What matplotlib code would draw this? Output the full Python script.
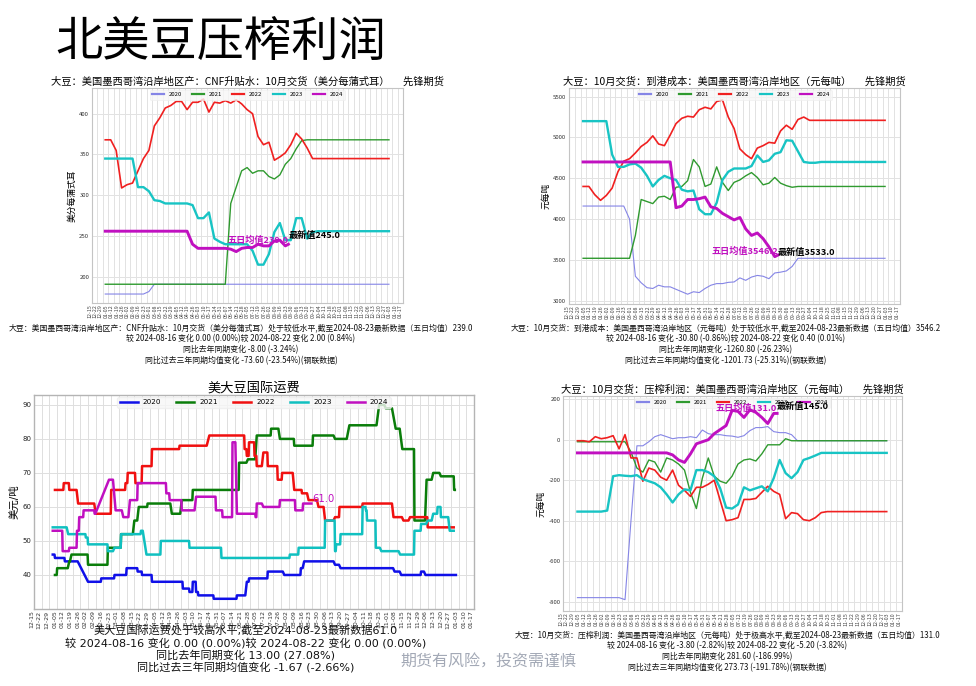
import matplotlib
matplotlib.use('Agg')
import matplotlib.pyplot as plt
import numpy as np
import pandas as pd

CJK = 'Noto Sans CJK SC'
plt.rcParams['font.family'] = [CJK, 'DejaVu Sans']
plt.rcParams['axes.unicode_minus'] = False

W, H = 976, 686
fig = plt.figure(figsize=(W / 100, H / 100), dpi=100)


def fx(px):
    return px / W


def fy(py):
    return 1 - py / H


# ---------------- x axis (seasonal, Dec-15 .. Jan-17) ----------------
x_start = pd.Timestamp('2023-12-15')
tick_dates = pd.date_range(x_start, periods=58, freq='7D')
tick_labels = [d.strftime('%m-%d') for d in tick_dates]
tick_pos = [(d - x_start).days for d in tick_dates]
X_END = (pd.Timestamp('2025-01-17') - x_start).days
JAN1 = (pd.Timestamp('2024-01-01') - x_start).days
week_dates = pd.date_range('2024-01-01', periods=53, freq='7D')
week_x = [(d - x_start).days for d in week_dates]
last_x = (pd.Timestamp('2024-08-23') - x_start).days

years = ['2020', '2021', '2022', '2023', '2024']

# ---------------- data: CNF basis (US cents / bushel), weekly ----------------
tl_2020 = [179] * 8 + [182, 191] + [191] * 43
tl_2021 = [191] * 23 + [290, 310, 330, 334, 327, 330, 330, 323, 320, 325, 338, 345, 357, 367] + [368] * 16
tl_2022 = [368, 368, 355, 309, 313, 315, 330, 345, 355, 385, 395, 407, 410, 415, 415, 405, 414, 414,
           418, 402, 414, 413, 416, 413, 417, 412, 405, 400, 372, 362, 365, 343, 347, 352, 362, 376,
           369, 358, 345] + [345] * 14
tl_2023 = [345] * 5 + [345, 310, 310, 305, 294, 293, 290, 290, 290, 290, 290, 288, 272, 272, 279, 247,
                       243, 240, 240, 240, 240, 240, 232, 215, 215, 228, 255, 266, 245, 245, 272, 272,
                       247, 255] + [256] * 14
tl_2024 = [256] * 16 + [240, 235, 235, 235, 235, 235, 235, 234, 231, 235, 236, 236, 240, 238, 238,
                        244, 245, 238, 240]
tl_avg5, tl_latest = 239.0, 245.0

# ---------------- data: landed cost (yuan / t), weekly ----------------
tr_2020 = [4160] * 8 + [4000, 3300, 3220, 3160, 3150, 3190, 3170, 3170, 3140, 3110, 3080, 3110, 3100,
                        3150, 3190, 3210, 3210, 3225, 3230, 3280, 3250, 3290, 3310, 3300, 3270, 3340,
                        3350, 3365, 3420] + [3520] * 16
tr_2021 = [3520] * 9 + [3800, 4240, 4215, 4190, 4270, 4280, 4240, 4390, 4400, 4470, 4730, 4640, 4400,
                        4430, 4640, 4450, 4350, 4450, 4480, 4530, 4570, 4510, 4420, 4440, 4510, 4440,
                        4410, 4390] + [4400] * 16
tr_2022 = [4400, 4400, 4300, 4230, 4290, 4380, 4580, 4710, 4740, 4810, 4890, 4940, 5020, 4920, 4900,
           5030, 5170, 5235, 5260, 5250, 5340, 5370, 5350, 5440, 5460, 5250, 5110, 4860, 4790, 4740,
           4870, 4900, 4940, 4930, 5080, 5150, 5100, 5220, 5250] + [5210] * 14
tr_2023 = [5200] * 5 + [4790, 4640, 4640, 4670, 4680, 4630, 4530, 4400, 4480, 4530, 4500, 4480, 4360,
                        4340, 4350, 4120, 4060, 4060, 4200, 4480, 4580, 4620, 4620, 4620, 4650, 4780,
                        4700, 4720, 4800, 4820, 4965, 4960, 4830, 4700, 4690, 4690] + [4700] * 12
tr_2024 = [4700] * 16 + [4140, 4160, 4240, 4240, 4250, 4270, 4150, 4130, 4070, 4030, 3990, 4020, 3880,
                         3800, 3830, 3760, 3660, 3540, 3560]
tr_avg5, tr_latest = 3546.2, 3533.0

# ---------------- data: crush margin (yuan / t), weekly ----------------
br_2020 = [-780] * 8 + [-790, -400, -30, -30, -10, 15, 25, 15, 5, 10, 10, 15, 10, 48, 30, 25, 25, 20,
                        18, 12, 20, 45, 60, 60, 65, 40, 35, 35, 25] + [-5] * 16
br_2021 = [-10] * 9 + [-60, -140, -160, -100, -110, -160, -90, -100, -120, -150, -260, -340, -190, -90,
                       -180, -205, -215, -180, -120, -100, -95, -105, -70, -25, -25, -25, 5, -5] + [-5] * 16
br_2022 = [-5, -5, -10, 15, 5, 10, 20, -45, 25, -90, -90, -205, -140, -150, -185, -200, -150, -225,
           -250, -280, -235, -235, -220, -200, -300, -400, -395, -385, -295, -295, -290, -260, -230,
           -255, -270, -390, -360, -365, -395, -400, -385, -360] + [-355] * 11
br_2023 = [-355] * 5 + [-350, -180, -175, -178, -180, -175, -195, -205, -215, -235, -270, -310, -270,
                        -245, -250, -150, -150, -160, -180, -240, -335, -340, -320, -235, -250, -240,
                        -230, -255, -190, -100, -165, -190, -160, -100, -90, -78] + [-65] * 12
br_2024 = [-65] * 16 + [-75, -100, -112, -70, -20, -10, 0, 30, 50, 70, 145, 140, 110, 148, 135, 110,
                        80, 130, 130]
br_avg5, br_latest = 131.0, 145.0

# ---------------- data: US soybean ocean freight (USD/t), segments (day-of-year start, end, value) -----
fr_2020 = [(0, 1, 46), (2, 10, 45), (11, 22, 44), (32, 43, 38), (44, 55, 39), (56, 66, 40), (67, 76, 42),
           (77, 80, 41), (81, 89, 40), (90, 117, 38), (118, 123, 36), (124, 126, 35), (127, 129, 38),
           (130, 131, 35), (132, 145, 34), (146, 166, 33), (167, 174, 34), (176, 177, 38), (178, 194, 39),
           (195, 208, 41), (210, 224, 40), (225, 226, 42), (228, 254, 44), (256, 259, 43), (261, 308, 42),
           (310, 314, 41), (316, 333, 40), (334, 336, 41), (338, 365, 40)]
fr_2021 = [(2, 3, 40), (4, 13, 42), (15, 15, 44), (17, 31, 46), (32, 49, 43), (50, 61, 48), (62, 72, 52),
           (74, 76, 56), (78, 85, 60), (86, 106, 61), (108, 115, 58), (117, 126, 62), (127, 168, 65),
           (169, 175, 73), (177, 183, 74), (185, 197, 81), (198, 204, 83), (206, 218, 80), (219, 235, 78),
           (236, 254, 81), (256, 266, 80), (269, 293, 84), (296, 300, 90), (302, 307, 89), (311, 314, 83),
           (317, 327, 77), (328, 337, 56), (339, 343, 68), (345, 350, 70), (352, 363, 69), (364, 364, 65)]
fr_2022 = [(2, 9, 65), (10, 14, 67), (15, 21, 65), (23, 37, 61), (39, 52, 58), (53, 65, 65), (66, 67, 67),
           (68, 74, 70), (75, 80, 67), (81, 89, 72), (90, 114, 77), (115, 139, 78), (142, 173, 81),
           (174, 175, 77), (176, 177, 75), (178, 182, 79), (183, 184, 75), (185, 189, 72), (191, 194, 76),
           (195, 203, 72), (204, 207, 68), (208, 217, 70), (219, 225, 65), (226, 230, 64), (232, 239, 62),
           (241, 245, 60), (247, 254, 56), (256, 259, 57), (260, 280, 60), (281, 307, 61), (309, 316, 57),
           (318, 322, 56), (324, 339, 57), (340, 363, 54)]
fr_2023 = [(0, 12, 54), (14, 29, 52), (30, 31, 51), (32, 49, 49), (50, 54, 47), (56, 61, 48), (62, 79, 52),
           (80, 81, 53), (85, 97, 46), (98, 123, 50), (124, 152, 48), (153, 214, 45), (215, 222, 46),
           (223, 246, 48), (247, 255, 56), (256, 256, 47), (257, 260, 49), (261, 280, 52), (281, 283, 60),
           (284, 284, 59), (285, 292, 56), (293, 296, 48), (298, 313, 47), (315, 327, 46), (328, 333, 53),
           (334, 338, 55), (340, 343, 56), (345, 348, 58), (349, 351, 60), (352, 358, 57), (360, 363, 53)]
fr_2024 = [(0, 8, 53), (9, 14, 47), (15, 21, 48), (22, 23, 53), (24, 27, 57), (28, 37, 59), (38, 38, 58),
           (51, 54, 68), (57, 62, 59), (64, 68, 57), (70, 76, 62), (77, 102, 67), (103, 105, 64),
           (106, 116, 62), (117, 128, 59), (130, 147, 63), (148, 153, 59), (154, 162, 57), (163, 165, 79),
           (167, 183, 58), (184, 184, 57), (185, 189, 61), (191, 205, 60), (206, 219, 62), (220, 226, 59),
           (227, 234, 61)]
fr_latest = 61.0

# ---------------- texts ----------------
main_title = '北美豆压榨利润'
tl_title = '大豆：美国墨西哥湾沿岸地区产：CNF升贴水：10月交货（美分每蒲式耳）      先锋期货'
tr_title = '大豆：10月交货：到港成本：美国墨西哥湾沿岸地区（元每吨）      先锋期货'
br_title = '大豆：10月交货：压榨利润：美国墨西哥湾沿岸地区（元每吨）      先锋期货'
bl_title = '美大豆国际运费'
tl_foot = ['大豆：美国墨西哥湾沿岸地区产：CNF升贴水：10月交货（美分每蒲式耳）处于较低水平,截至2024-08-23最新数据（五日均值）239.0',
           '较 2024-08-16 变化 0.00 (0.00%)较 2024-08-22 变化 2.00 (0.84%)',
           '同比去年同期变化 -8.00 (-3.24%)',
           '同比过去三年同期均值变化 -73.60 (-23.54%)(钢联数据)']
tr_foot = ['大豆：10月交货：到港成本：美国墨西哥湾沿岸地区（元每吨）处于较低水平,截至2024-08-23最新数据（五日均值）3546.2',
           '较 2024-08-16 变化 -30.80 (-0.86%)较 2024-08-22 变化 0.40 (0.01%)',
           '同比去年同期变化 -1260.80 (-26.23%)',
           '同比过去三年同期均值变化 -1201.73 (-25.31%)(钢联数据)']
br_foot = ['大豆：10月交货：压榨利润：美国墨西哥湾沿岸地区（元每吨）处于极高水平,截至2024-08-23最新数据（五日均值）131.0',
           '较 2024-08-16 变化 -3.80 (-2.82%)较 2024-08-22 变化 -5.20 (-3.82%)',
           '同比去年同期变化 281.60 (-186.99%)',
           '同比过去三年同期均值变化 273.73 (-191.78%)(钢联数据)']
bl_foot = ['美大豆国际运费处于较高水平,截至2024-08-23最新数据61.0',
           '较 2024-08-16 变化 0.00 (0.00%)较 2024-08-22 变化 0.00 (0.00%)',
           '同比去年同期变化 13.00 (27.08%)',
           '同比过去三年同期均值变化 -1.67 (-2.66%)']

# ---------------- styles ----------------
s_colors = ['#8585e6', '#2f9a2f', '#f02020', '#18c4c4', '#c010c0']
s_widths = [0.8, 1.0, 1.2, 1.7, 2.1]
b_colors = ['#1010e8', '#0a7d0a', '#f01010', '#10c0c0', '#c010c0']


def style_axes(ax, ylim, yticks, ylabel, title, xfs=3.8, yfs=4.3):
    ax.set_xlim(0, X_END)
    ax.set_ylim(*ylim)
    ax.set_yticks(yticks)
    ax.set_xticks(tick_pos)
    ax.set_xticklabels(tick_labels, rotation=90, ha='right', fontsize=xfs, color='#444444')
    ax.tick_params(axis='y', labelsize=yfs, length=0, pad=2, colors='#333333')
    ax.tick_params(axis='x', length=0, pad=1)
    ax.grid(True, color='#e2e2e2', lw=0.7)
    ax.set_axisbelow(True)
    for sp in ax.spines.values():
        sp.set_color('#c4c4c4')
        sp.set_linewidth(0.8)
    ax.set_ylabel(ylabel, fontsize=6.3, labelpad=2)
    ax.set_title(title, fontsize=7.4, pad=2)


def seasonal(ax, series, avg5, latest, ylim, yticks, ylabel, title):
    for i, (yr, vals) in enumerate(zip(years, series)):
        if yr == '2024':
            xs = week_x[:len(vals) - 1] + [last_x]
        else:
            xs = week_x[:len(vals)]
        ax.plot(xs, vals, color=s_colors[i], lw=s_widths[i], label=yr, zorder=2 + i)
    style_axes(ax, ylim, yticks, ylabel, title)
    leg = ax.legend(loc='upper center', ncol=5, fontsize=4.3, handlelength=2.0, handletextpad=0.8,
                    columnspacing=1.7, borderaxespad=0.3, frameon=True, borderpad=0.4)
    leg.get_frame().set_edgecolor('#eeeeee')
    leg.get_frame().set_facecolor('#f7f7f7')
    leg.get_frame().set_linewidth(0.5)
    for h in leg.get_lines():
        h.set_linewidth(1.6)
    ax.text(last_x, avg5, f'五日均值{avg5:.1f}', color='#c010c0', fontsize=6.6, fontweight='bold',
            ha='right', va='bottom', zorder=10)
    ax.text(last_x, latest, f'最新值{latest:.1f}', color='black', fontsize=6.6, fontweight='bold',
            ha='left', va='bottom', zorder=10)


def footer(lines, cx, ys, fs, family=None):
    for t, y in zip(lines, ys):
        kw = {}
        if family:
            kw['family'] = family
        fig.text(fx(cx), fy(y), t, ha='center', va='center', fontsize=fs, color='#111111', **kw)


# ---------------- top-left ----------------
ax1 = fig.add_axes([fx(92), fy(303), fx(403) - fx(92), (303 - 88) / H])
seasonal(ax1, [tl_2020, tl_2021, tl_2022, tl_2023, tl_2024], tl_avg5, tl_latest,
         (168, 431.5), [200, 250, 300, 350, 400], '美分每蒲式耳', tl_title)
footer(tl_foot, 241, [328, 339, 349.5, 361], 5.7)

# ---------------- top-right ----------------
ax2 = fig.add_axes([fx(569), fy(304), fx(900) - fx(569), (304 - 88) / H])
seasonal(ax2, [tr_2020, tr_2021, tr_2022, tr_2023, tr_2024], tr_avg5, tr_latest,
         (2960, 5606), [3000, 3500, 4000, 4500, 5000, 5500], '元每吨', tr_title)
footer(tr_foot, 726, [328, 339, 350, 361], 5.7)

# ---------------- bottom-right ----------------
ax4 = fig.add_axes([fx(563), fy(611), fx(902) - fx(563), (611 - 396) / H])
seasonal(ax4, [br_2020, br_2021, br_2022, br_2023, br_2024], br_avg5, br_latest,
         (-846, 216), [-800, -600, -400, -200, 0, 200], '元每吨', br_title)
footer(br_foot, 727, [635, 646, 657, 667.5], 5.7)

# ---------------- bottom-left (freight) ----------------
BLF = ['DejaVu Sans', CJK]
ax3 = fig.add_axes([fx(34), fy(609), fx(474) - fx(34), (609 - 395) / H])
for i, (yr, segs) in enumerate(zip(years, [fr_2020, fr_2021, fr_2022, fr_2023, fr_2024])):
    xs, ys = [], []
    for a, b, v in segs:
        xs += [a + JAN1, b + JAN1 + 0.6]
        ys += [v, v]
    ax3.plot(xs, ys, color=b_colors[i], lw=1.8, label=yr, zorder=2 + i)
ax3.set_xlim(0, X_END)
ax3.set_ylim(30, 92.9)
ax3.set_yticks([40, 50, 60, 70, 80, 90])
ax3.set_xticks(tick_pos)
ax3.set_xticklabels(tick_labels, rotation=90, ha='right', fontsize=4.5, color='#333333', family=BLF)
for lbl in ax3.get_yticklabels():
    lbl.set_family(BLF)
ax3.tick_params(axis='y', labelsize=5, length=0, pad=2, colors='#222222')
ax3.tick_params(axis='x', length=0, pad=1)
ax3.grid(True, color='#dedede', lw=0.7)
ax3.set_axisbelow(True)
for sp in ax3.spines.values():
    sp.set_color('#b4b4b4')
    sp.set_linewidth(1.0)
ax3.set_ylabel('美元/吨', fontsize=7.5, labelpad=2, family=BLF)
ax3.set_title(bl_title, fontsize=9.5, pad=2, family=BLF)
leg3 = ax3.legend(loc='upper center', ncol=5, fontsize=5.2, handlelength=2.5, handletextpad=0.7,
                  columnspacing=2.1, borderaxespad=0.3, frameon=True, borderpad=0.3,
                  prop={'family': BLF, 'size': 5.2})
leg3.get_frame().set_edgecolor('#eeeeee')
leg3.get_frame().set_facecolor('#f7f7f7')
ax3.text(last_x, fr_latest, f'{fr_latest:.1f}', color='#c010c0', fontsize=7.2, ha='left', va='bottom',
         family=BLF, zorder=10)
footer(bl_foot, 246, [630, 643, 655, 667], 8, family=BLF)

# ---------------- figure texts ----------------
fig.text(fx(55), fy(44), main_title, ha='left', va='center', fontsize=34, fontweight='light',
         color='black')
fig.text(fx(400), fy(662), '期货有风险，投资需谨慎', ha='left', va='center', fontsize=11.5,
         color='#a3a9b6')

fig.savefig('out.png', dpi=100)
